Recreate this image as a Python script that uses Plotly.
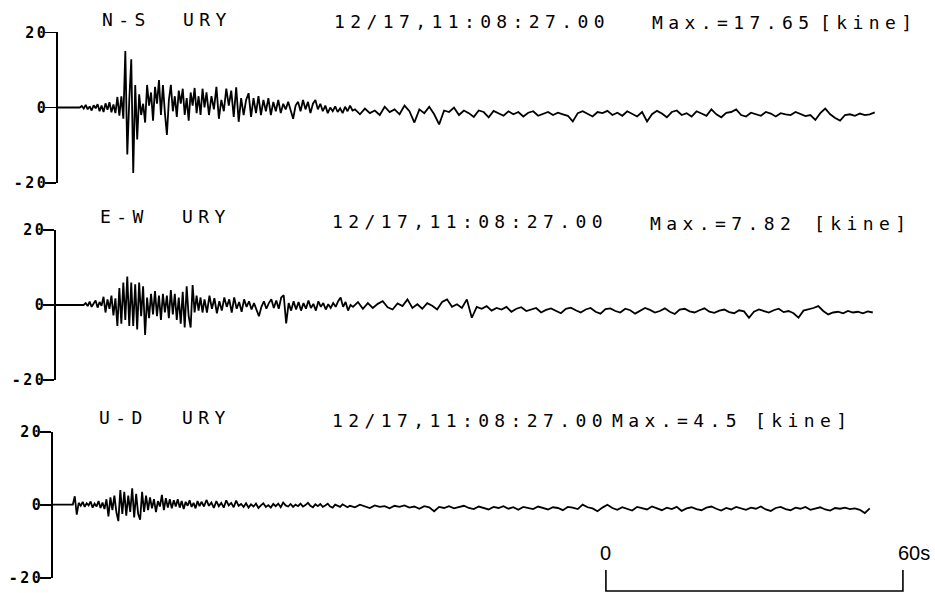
import numpy as np
import plotly.graph_objects as go

# ---------------- data (velocity, kine) ----------------
# sampling: segment A 0-29.6 s every 0.4 s, segment B 30-59.5 s every 0.5 s, segment C 60-165 s every 1 s
ns_a = [0, 0, 0, 0, 0, 0, 0, 0, 0, 0, 0, 0,
        0.4, -0.3, 0.7, -0.5, 0.3, -0.8, 0.6, -0.2, 0.9, -1.0, 0.5, -1.2, 1.1, -0.6, 1.4, -1.3, 0.8, -1.5,
        2.8, -2.2, 3.0, -3.0, 15.0, -12.5, 2.0, 12.8, -17.4, 6.0, -8.5,
        3.5, -2.0, 1.0, -4.0, 6.0, 0.5, 4.0, -3.5, 5.5, 1.0, 7.3, -2.0, 6.0, -1.5, -7.3, 2.0, 6.0, -1.0, 3.0,
        -2.5, 4.5, 1.0, 5.0, -2.0, 2.5, -3.5, 4.0, 0.5, 5.2, -1.5, 3.0, -2.0, 5.0, 0.0]
ns_b = [4.0, -2.0, 3.0, -0.5, 5.5, -3.0, 2.0, -1.0, 5.0, 0.5,
        4.5, -2.5, 5.4, -3.8, 2.5, -2.0, 2.0, 3.8, -2.5, 2.5,
        -1.5, 3.0, -2.0, 2.0, -1.0, 2.5, -2.0, 1.5, -1.0, 2.0,
        -1.5, 1.0, -0.5, 1.5, -1.0, -3.0, 0.5, 1.5, -1.0, 2.0,
        -0.5, 1.5, -1.5, 1.0, 2.0, -0.5, 1.0, -1.0, 0.5, -1.5,
        0.0, -1.0, 0.3, -1.2, -0.2, -1.5, 0.2, -1.0, 0.5, -0.8]
ns_c = [-0.5, -1.8, -0.3, -1.5, -0.8, -2.0, 0.2, -1.2, -0.5, -1.8,
        0.5, -1.0, -4.0, -0.5, -1.5, 0.2, -1.8, -4.5, -0.8, -1.2,
        0.0, -2.0, -0.8, -1.5, -2.5, -0.8, -1.2, -2.6, -0.9, -1.5,
        -2.2, -1.0, -1.8, -1.2, -2.4, -1.4, -1.0, -2.2, -1.6, -1.2,
        -2.0, -1.4, -1.8, -2.2, -3.7, -1.5, -1.0, -1.8, -2.4, -1.2,
        -1.5, -0.9, -2.0, -1.4, -2.2, -1.0, -1.6, -2.4, -1.2, -3.7,
        -1.8, -0.9, -1.6, -2.6, -1.2, -0.8, -2.0, -1.5, -2.4, -1.0,
        -1.6, -2.2, -0.5, -1.8, -2.6, -1.4, -1.2, -0.5, -2.0, -2.4,
        -1.4, -1.8, -2.2, -1.2, -1.6, -2.4, -1.5, -1.8, -2.0, -1.2,
        -1.8, -2.3, -2.0, -3.3, -1.5, -0.3, -1.8, -2.8, -3.5, -2.0,
        -1.8, -2.2, -1.6, -2.0, -1.8, -1.3]

ew_a = [0] * 15 + [
        0.5, -0.3, 0.9, -0.5, 0.4, 1.2, -0.7, 0.8, -0.2, 2.2, -2.0, 1.5, -1.0,
        2.5, -2.8, 1.8,
        -5.6, 4.5, -5.0, 6.0, -4.0, 7.6, -5.6, 6.0, -5.6, 5.5, -6.5, 6.0, -3.0,
        5.0, -8.0, 2.0, -3.5,
        3.0, -2.5, 3.7, -3.0, 2.5, -4.0, 3.0, -2.0, 2.5,
        -3.5, 4.0, -2.5, 3.0, -4.0, 2.0, -5.0, 3.5, -6.0, 5.0, -3.0, -6.0, 5.3,
        -2.0, 2.5, -1.5, 2.0, -2.0]
ew_b = [1.5, -2.0, 2.5, -1.0, 1.8, -2.2, 1.0, -1.5, 2.0, -0.5,
        1.5, -2.0, 2.0, -1.0, 0.8, -1.8, 1.5, -0.5, 1.0, -1.2,
        0.5, -1.5, -3.0, -0.5, 1.0, -1.0, 0.5, 1.5, -0.8, 1.2,
        -1.0, 2.0, 2.6, -4.9, 0.5, -1.5, 1.0, -1.2, 0.8, -1.5,
        0.5, -1.0, 1.2, -0.8, 0.3, -1.5, 1.0, -0.5, 0.5, -1.2,
        0.2, -0.8, 0.5, -0.5, 1.0, 2.0, -0.5, 0.8, -1.5, 0.0]
ew_c = [-0.5, 0.8, -1.0, 0.5, -0.8, 0.3, 1.0, -0.6, -1.2, 0.4,
        -0.3, 1.5, -0.8, 0.2, -1.0, 0.5, -0.2, -1.2, 0.8, 1.5,
        -0.5, 0.2, -0.8, 1.5, -3.4, -0.5, -1.0, -0.3, -1.5, -0.8,
        -1.2, -0.5, -1.8, -1.0, -0.6, -1.6, -1.2, -0.8, -2.0, -1.3,
        -0.9, -1.5, -2.2, -1.0, -0.7, -1.4, -2.0, -1.2, -0.8, -1.8,
        -2.3, -1.1, -0.9, -1.6, -2.0, -1.0, -1.4, -2.3, -1.5, -0.8,
        -1.3, -2.0, -1.6, -0.9, -1.8, -2.4, -1.2, -1.0, -1.7, -2.0,
        -1.4, -0.9, -1.8, -2.1, -1.5, -1.2, -1.9, -2.2, -1.4, -1.7,
        -3.4, -1.8, -1.2, -1.6, -2.0, -1.4, -1.0, -1.9, -1.6, -2.2,
        -3.4, -1.5, -1.2, -0.8, -0.3, -1.6, -2.5, -2.0, -1.8, -2.2,
        -1.6, -2.0, -1.8, -2.2, -1.7, -2.0]

ud_a = [0] * 11 + [
        2.3, -2.7,
        0.5, -0.3, 0.8, -0.6, 0.4, -0.2, 0.9, -0.8, 0.3, -0.5, 1.0, -0.9, 0.6, -1.2, 1.5,
        -3.2, 2.0, -1.5, 2.5, -2.0, -4.5, 4.0, -2.5, 3.5, -3.0, 2.5, -2.0, 4.5, -3.5, 3.0, -2.5, -4.1, 3.5, -2.0, 2.5,
        -1.5, 2.0, -1.0, 1.5, -2.0, 1.0, -0.5, 2.7, -1.5, 1.8, -0.8, 1.5, -1.0,
        1.2, -0.5, 1.5, -0.8, 1.0, -1.2, 0.8, -0.3, 1.2, -0.6, 0.5, -1.0, 1.0, -0.4]
ud_b = [0.8, -0.5, 1.3, -0.3, 0.6, -0.9, 1.0, -0.4, 0.5, -0.8,
        1.2, -0.2, 0.5, -0.7, 1.1, -0.3, 0.2, -0.6, 0.4, -0.8,
        0.1, -0.5, 0.3, -0.9, -0.2, 0.4, -0.6, -0.1, -0.8, 0.2,
        -0.4, 0.3, -0.7, 0.6, -0.2, -0.5, 0.2, -0.6, 0.0, -0.4,
        0.3, -0.5, -0.1, 0.5, -0.3, -0.7, 0.1, -0.4, 0.2, -0.6,
        -0.2, 0.3, -0.5, -0.8, 0.0, -0.3, -0.6, 0.1, -0.4, -0.7]
ud_c = [-0.3, -0.7, 0.0, -0.5, -0.9, -0.2, -0.6, -0.4, -1.0, -0.3,
        -0.6, -0.2, -0.8, -0.5, -1.1, -0.4, -0.7, -1.8, -0.6, -0.9,
        -0.4, -1.0, -0.7, -0.3, -0.9, -1.2, -0.5, -0.8, -1.3, -0.6,
        -0.9, -0.4, -1.1, -0.7, -1.4, -0.6, -0.9, -1.2, -0.5, -1.0,
        -1.3, -0.7, -0.9, -1.5, -0.6, -0.8, -1.2, 0.0, -0.7, -1.0,
        -1.8, -0.8, 0.0, -0.9, -1.4, -0.7, -1.1, -1.6, -0.6, -0.9,
        -1.3, -0.5, -1.0, -1.5, -0.8, -1.2, -0.6, -1.7, -1.0, -0.7,
        -1.2, -1.5, -0.8, -0.5, -1.1, -1.6, -0.9, -1.3, -0.6, -1.0,
        -1.4, -0.8, -1.1, -0.5, -1.3, -1.7, -0.9, -0.6, -1.2, -1.5,
        -0.8, -1.1, -0.6, -1.4, -1.0, -0.7, -1.3, -1.6, -0.9, -1.1,
        -0.8, -1.2, -1.0, -1.4, -2.3, -1.0]

components = ["N-S", "E-W", "U-D"]
station = "URY"
date_str = "12/17,11:08:27.00"
max_values = ["17.65", "7.82", "4.5"]
unit = "[kine]"
tick_vals = [-20, 0, 20]
tick_text = ["-20", "0", "20"]
scale_start = 111.7   # s on U-D time axis
scale_len = 60        # s
seg_start = [0.0, 30.0, 60.0]
seg_step = [0.4, 0.5, 1.0]

series = [(ns_a, ns_b, ns_c), (ew_a, ew_b, ew_c), (ud_a, ud_b, ud_c)]

# ---------------- layout geometry (pixels) ----------------
W, H = 935, 593
PX_PER_S = 4.95
axis_x = [58, 56, 53]
y_top = [32.3, 230.0, 431.7]
y_bot = [182.7, 380.0, 577.7]
comp_pos = [(100, 20), (98, 216.5), (97, 417.5)]
stat_pos = [(181, 20), (180, 216.5), (180, 417.5)]
date_pos = [(332, 21.5), (330, 221), (330, 420)]
max_pos = [(650, 23), (648, 223), (610, 420)]
unit_pos = [(818, 23), (812, 223), (753, 420)]

def px(x):
    return x / W

def py(y):
    return 1 - y / H

fig = go.Figure()
layout = dict(template="none", width=W, height=H, autosize=False,
              margin=dict(l=0, r=0, t=0, b=0, pad=0, autoexpand=False),
              paper_bgcolor="white", plot_bgcolor="white", showlegend=False)

tick_labels = [f"<span style='letter-spacing:2.5px'>{s}</span>" for s in tick_text]

for i, segs in enumerate(series):
    t = []
    v = []
    for s, st, vals in zip(seg_start, seg_step, segs):
        t.extend((s + st * np.arange(len(vals))).tolist())
        v.extend(vals)
    xa = "x" if i == 0 else f"x{i+1}"
    ya = "y" if i == 0 else f"y{i+1}"
    fig.add_trace(go.Scatter(x=t, y=v, mode="lines", xaxis=xa, yaxis=ya,
                             line=dict(color="black", width=1.8), hoverinfo="skip"))
    xkey = "xaxis" if i == 0 else f"xaxis{i+1}"
    ykey = "yaxis" if i == 0 else f"yaxis{i+1}"
    layout[xkey] = dict(domain=[px(axis_x[i]), 1], range=[0, (W - axis_x[i]) / PX_PER_S],
                        visible=False, anchor=ya, fixedrange=True, automargin=False)
    layout[ykey] = dict(domain=[py(y_bot[i]), py(y_top[i])], range=[-20, 20], anchor=xa,
                        showline=True, linecolor="black", linewidth=1.6, automargin=False,
                        ticks="outside", ticklen=11, tickwidth=1.6, tickcolor="black",
                        tickvals=tick_vals, ticktext=tick_labels, showgrid=False, zeroline=False,
                        ticklabelstandoff=-6,
                        tickfont=dict(family="DejaVu Sans Mono", size=15, color="black",
                                      weight="bold"),
                        fixedrange=True)

fig.update_layout(**layout)

LS = "letter-spacing:5.4px"
anns = []
def add_text(txt, pos, size=18, spacing=LS):
    anns.append(dict(text=f"<span style='{spacing}'>{txt}</span>", x=px(pos[0]), y=py(pos[1]),
                     xref="paper", yref="paper", xanchor="left", yanchor="middle",
                     showarrow=False, font=dict(family="DejaVu Sans Mono", size=size, color="black")))

for i in range(3):
    add_text(components[i], comp_pos[i])
    add_text(station, stat_pos[i])
    add_text(date_str, date_pos[i])
    add_text(f"Max.={max_values[i]}", max_pos[i])
    add_text(unit, unit_pos[i])

# scale bar labels
anns.append(dict(text="0", x=scale_start, y=py(553), xref="x3", yref="paper",
                 xanchor="center", yanchor="middle", showarrow=False,
                 font=dict(family="Liberation Sans", size=20, color="black")))
anns.append(dict(text="60s", x=scale_start + scale_len, y=py(553), xref="x3", yref="paper",
                 xanchor="left", yanchor="middle", xshift=-7, showarrow=False,
                 font=dict(family="Liberation Sans", size=20, color="black")))
fig.update_layout(annotations=anns)

x0, x1 = scale_start, scale_start + scale_len
yb0, yb1 = py(570), py(591)
fig.add_shape(type="path", xref="x3", yref="paper",
              path=f"M {x0},{yb0} L {x0},{yb1} L {x1},{yb1} L {x1},{yb0}",
              line=dict(color="black", width=1.6))

fig.write_html("out.html", config={"displayModeBar": False, "staticPlot": True})
